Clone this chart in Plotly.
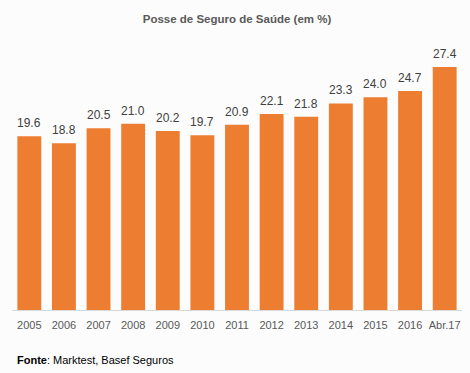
import plotly.graph_objects as go

categories = ["2005", "2006", "2007", "2008", "2009", "2010", "2011", "2012",
              "2013", "2014", "2015", "2016", "Abr.17"]
values = [19.6, 18.8, 20.5, 21.0, 20.2, 19.7, 20.9, 22.1, 21.8, 23.3, 24.0, 24.7, 27.4]

FONT = "Liberation Sans"

fig = go.Figure()
fig.add_trace(go.Bar(
    x=categories, y=values,
    marker=dict(color="#ED7D31", line=dict(width=0)),
    hoverinfo="x+y",
))

for i, v in enumerate(values):
    fig.add_annotation(
        x=i, y=v, text=f"{v:.1f}", showarrow=False,
        yanchor="bottom", yshift=4,
        font=dict(family=FONT, size=12, color="#404040"),
    )

fig.add_annotation(
    xref="paper", yref="paper", x=0.007, y=-0.188,
    xanchor="left", yanchor="middle", showarrow=False,
    text="<b>Fonte</b>: Marktest, Basef Seguros",
    font=dict(family=FONT, size=11, color="#000000"),
)

fig.update_layout(
    width=470, height=373,
    margin=dict(l=12, r=8, t=44, b=63),
    paper_bgcolor="#fcfcfc", plot_bgcolor="#fcfcfc",
    bargap=0.31,
    showlegend=False,
    title=dict(
        text="<b>Posse de Seguro de Saúde (em %)</b>",
        x=0.5, xref="paper", xanchor="center",
        y=1 - 19 / 373, yref="container", yanchor="middle",
        font=dict(family=FONT, size=11.5, color="#595959"),
    ),
    xaxis=dict(
        type="category", range=[-0.5, len(categories) - 0.5],
        showline=True, linecolor="#d9d9d9", linewidth=1,
        showgrid=False, ticks="", zeroline=False,
        ticklabelstandoff=5,
        tickfont=dict(family=FONT, size=11, color="#595959"),
    ),
    yaxis=dict(range=[0, 30], visible=False, showgrid=False, zeroline=False),
)

fig.write_html("out.html", config={"displayModeBar": False},
               post_script="document.body.style.margin='0';")
